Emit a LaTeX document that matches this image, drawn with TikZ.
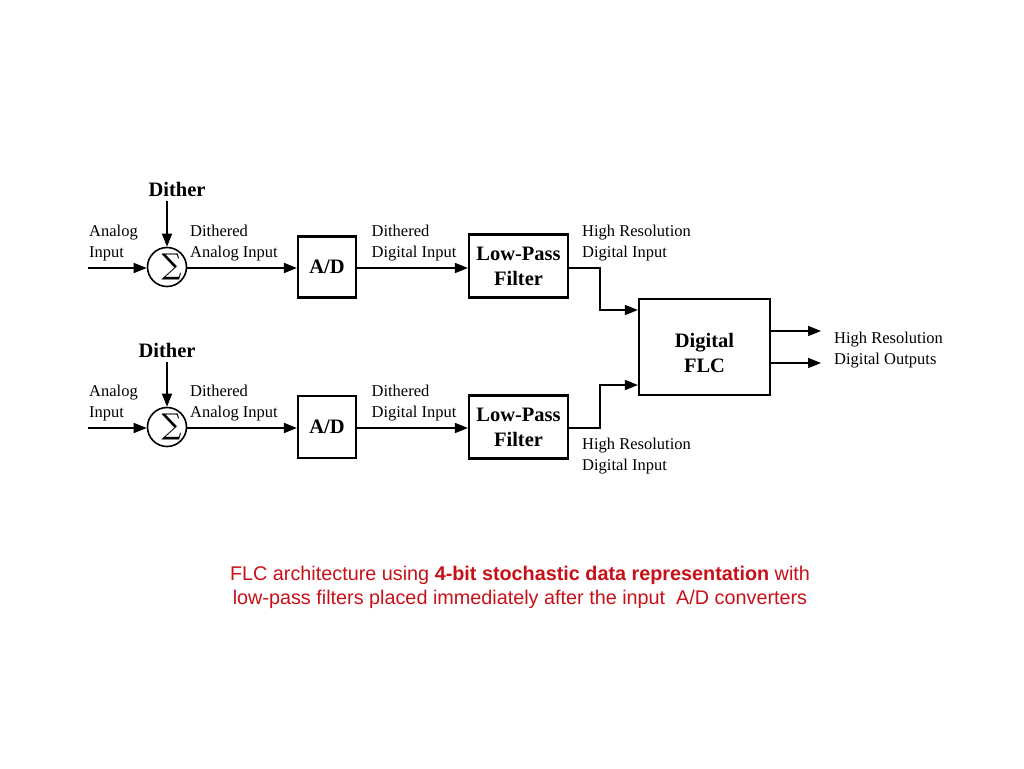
\documentclass[tikz,border=0pt]{standalone}
\usepackage{graphicx}
\usepackage{fontspec}
\setmainfont{Liberation Serif}
\newfontfamily\capfont{Liberation Sans}
\newfontfamily\sigfont{DejaVu Serif}
\usetikzlibrary{arrows.meta}
\definecolor{capred}{RGB}{200,16,24}
\newcommand{\bigsig}{\resizebox*{20pt}{26pt}{\sigfont ∑}}
\tikzset{
  conn/.style={line width=1.6pt, -{Triangle[length=13pt,width=10pt]}},
  blockbox/.style={draw, line width=2.2pt, inner sep=0pt, font=\fontsize{20.5}{25}\selectfont\bfseries, align=center},
  sumnode/.style={draw, circle, line width=1.6pt, minimum size=39pt, inner sep=0pt,
     label={[inner sep=0pt, anchor=center, xshift=4.5pt, yshift=0.5pt]center:{\bigsig}}},
  lbl/.style={font=\fontsize{16.5}{21}\selectfont, align=left, inner sep=0pt},
  dith/.style={font=\fontsize{20.5}{21}\selectfont\bfseries, inner sep=0pt},
}
\begin{document}
\begin{tikzpicture}[x=1pt,y=-1pt]
\useasboundingbox (0,0) rectangle (1024,768);
% top row
\node[sumnode] (s1) at (167,267) {};
\node[dith] (d1) at (177,189) {Dither};
\coordinate (in1) at (88,268);
\node[blockbox, minimum width=58pt, minimum height=61pt] (ad1) at (327,267) {A/D};
\node[blockbox, minimum width=99pt, minimum height=63pt] (lp1) at (518.5,266) {Low-Pass\\Filter};
% bottom row
\node[sumnode] (s2) at (167,427) {};
\node[dith] (d2) at (167,350) {Dither};
\coordinate (in2) at (88,428);
\node[blockbox, minimum width=58pt, minimum height=62pt] (ad2) at (327,427) {A/D};
\node[blockbox, minimum width=99pt, minimum height=63pt] (lp2) at (518.5,427) {Low-Pass\\Filter};
% FLC
\node[blockbox, minimum width=131pt, minimum height=96pt,
  label={[font=\fontsize{20.5}{25}\selectfont\bfseries, align=center, yshift=-6pt]center:Digital\\FLC}] (flc) at (704.5,347) {};
\coordinate (o1) at (821,331);
\coordinate (o2) at (821,363);
% connectors top
\draw[conn] (in1) -- (s1.west |- in1);
\draw[conn] (s1 |- d1.south) ++(0,5) -- (s1.north);
\draw[conn] (s1.east |- in1) -- (ad1.west |- in1);
\draw[conn] (ad1.east |- in1) -- (lp1.west |- in1);
\draw[conn] (lp1.east |- in1) -| (600,310) -- (flc.west |- 0,310);
% connectors bottom
\draw[conn] (in2) -- (s2.west |- in2);
\draw[conn] (s2 |- d2.south) ++(0,5) -- (s2.north);
\draw[conn] (s2.east |- in2) -- (ad2.west |- in2);
\draw[conn] (ad2.east |- in2) -- (lp2.west |- in2);
\draw[conn] (lp2.east |- in2) -| (600,385) -- (flc.west |- 0,385);
% outputs
\draw[conn] (flc.east |- o1) -- (o1);
\draw[conn] (flc.east |- o2) -- (o2);
% labels
\node[lbl, anchor=north west] at (89,225) {Analog\\Input};
\node[lbl, anchor=north] at (234,225) {Dithered\\Analog Input};
\node[lbl, anchor=north] at (414,225) {Dithered\\Digital Input};
\node[lbl, anchor=north west] at (582,225) {High Resolution\\Digital Input};
\node[lbl, anchor=north west] at (89,385) {Analog\\Input};
\node[lbl, anchor=north] at (234,385) {Dithered\\Analog Input};
\node[lbl, anchor=north] at (414,385) {Dithered\\Digital Input};
\node[lbl, anchor=north west] at (582,438) {High Resolution\\Digital Input};
\node[lbl, anchor=north west] at (834,332) {High Resolution\\Digital Outputs};
% caption
\node[font=\capfont\fontsize{19.8}{24}\selectfont, text=capred, align=center] (cap) at (520,587) {FLC architecture using \textbf{4-bit stochastic data representation} with\\low-pass filters placed immediately after the input\ \ A/D converters};
\end{tikzpicture}
\end{document}
